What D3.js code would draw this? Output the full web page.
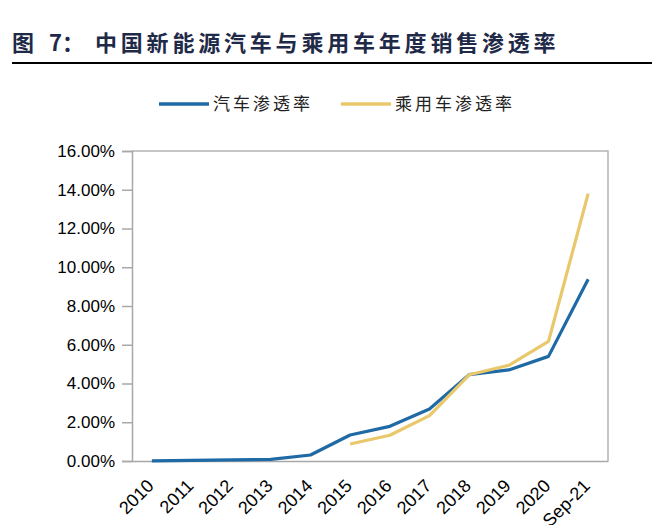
<!DOCTYPE html>
<html>
<head>
<meta charset="utf-8">
<script src="https://cdn.jsdelivr.net/npm/d3@7"></script>
<style>
  body { margin: 0; background: #fff; }
</style>
</head>
<body>
<script>
const years = ['2010', '2011', '2012', '2013', '2014', '2015', '2016', '2017', '2018', '2019', '2020', 'Sep-21']
const autoRate = [0.01, 0.03, 0.06, 0.08, 0.31, 1.34, 1.79, 2.68, 4.46, 4.70, 5.40, 9.38]
const passengerRate = [null, null, null, null, null, 0.88, 1.33, 2.34, 4.45, 4.94, 6.17, 13.80]
const yTicks = [0, 2, 4, 6, 8, 10, 12, 14, 16]
const seriesNames = ['汽车渗透率', '乘用车渗透率']
const colors = ['#1f6aa5', '#e8c86a']

const W = 657, H = 525
const margin = {top: 151, left: 132, right: 49, bottom: 64}
const width = W - margin.left - margin.right
const height = H - margin.top - margin.bottom

const svg = d3.select('body').append('svg')
  .attr('width', W)
  .attr('height', H)

// title, in three pieces to copy the wide spacing
const titleParts = [
  {x: 12, text: '图', spacing: 0},
  {x: 49, text: '7：', spacing: 0},
  {x: 95, text: '中国新能源汽车与乘用车年度销售渗透率', spacing: 3.8}
]
titleParts.forEach(p => {
  svg.append('text')
    .attr('x', p.x)
    .attr('y', 51)
    .attr('font-family', '"Noto Sans CJK SC", sans-serif')
    .attr('font-weight', 'bold')
    .attr('font-size', 22)
    .attr('letter-spacing', p.spacing)
    .attr('fill', '#1f2a48')
    .text(p.text)
})

svg.append('line')
  .attr('x1', 12).attr('x2', 652)
  .attr('y1', 63).attr('y2', 63)
  .attr('stroke', '#000')
  .attr('stroke-width', 2)

const g = svg.append('g')
  .attr('transform', `translate(${margin.left}, ${margin.top})`)

const xScale = d3.scaleBand()
  .domain(years)
  .range([0, width])

const yScale = d3.scaleLinear()
  .domain([0, 16])
  .range([height, 0])

// plot border (top, right)
g.append('path')
  .attr('d', `M0,0H${width}V${height}`)
  .attr('fill', 'none')
  .attr('stroke', '#b4b4b4')
  .attr('stroke-width', 1.5)

const yAxis = d3.axisLeft(yScale)
  .tickValues(yTicks)
  .tickSize(10)
  .tickFormat(d => d.toFixed(2) + '%')

const yAxisGroup = g.append('g').call(yAxis)
yAxisGroup.select('.domain').attr('stroke', '#a8a8a8').attr('stroke-width', 1.5)
yAxisGroup.selectAll('.tick line').attr('stroke', '#a8a8a8').attr('stroke-width', 1.5)
yAxisGroup.selectAll('.tick text')
  .attr('font-family', '"Liberation Sans", Arial, sans-serif')
  .attr('font-size', 17)
  .attr('fill', '#000')
  .attr('x', -17)

const xAxis = d3.axisBottom(xScale).tickSize(0)
const xAxisGroup = g.append('g')
  .attr('transform', `translate(0, ${height})`)
  .call(xAxis)
xAxisGroup.select('.domain').attr('stroke', '#a8a8a8').attr('stroke-width', 1.5)
xAxisGroup.selectAll('.tick text')
  .attr('font-family', '"Liberation Sans", Arial, sans-serif')
  .attr('font-size', 18)
  .attr('fill', '#000')
  .attr('text-anchor', 'end')
  .attr('dy', null)
  .attr('y', 0)
  .attr('transform', 'translate(3, 26) rotate(-45)')

const line = d3.line()
  .defined(d => d.v !== null)
  .x(d => xScale(d.year) + xScale.bandwidth() / 2)
  .y(d => yScale(d.v))

const series = [autoRate, passengerRate]
series.forEach((vals, i) => {
  g.append('path')
    .datum(years.map((year, j) => ({year, v: vals[j]})))
    .attr('d', line)
    .attr('fill', 'none')
    .attr('stroke', colors[i])
    .attr('stroke-width', 3.2)
    .attr('stroke-linejoin', 'round')
})

// legend
const legendX = [159, 341]
seriesNames.forEach((name, i) => {
  svg.append('line')
    .attr('x1', legendX[i]).attr('x2', legendX[i] + 50)
    .attr('y1', 104).attr('y2', 104)
    .attr('stroke', colors[i])
    .attr('stroke-width', 3.5)
  svg.append('text')
    .attr('x', legendX[i] + 54)
    .attr('y', 110)
    .attr('font-family', '"Noto Sans CJK SC", sans-serif')
    .attr('font-size', 17)
    .attr('letter-spacing', 3)
    .attr('fill', '#222')
    .text(name)
})
</script>
</body>
</html>
